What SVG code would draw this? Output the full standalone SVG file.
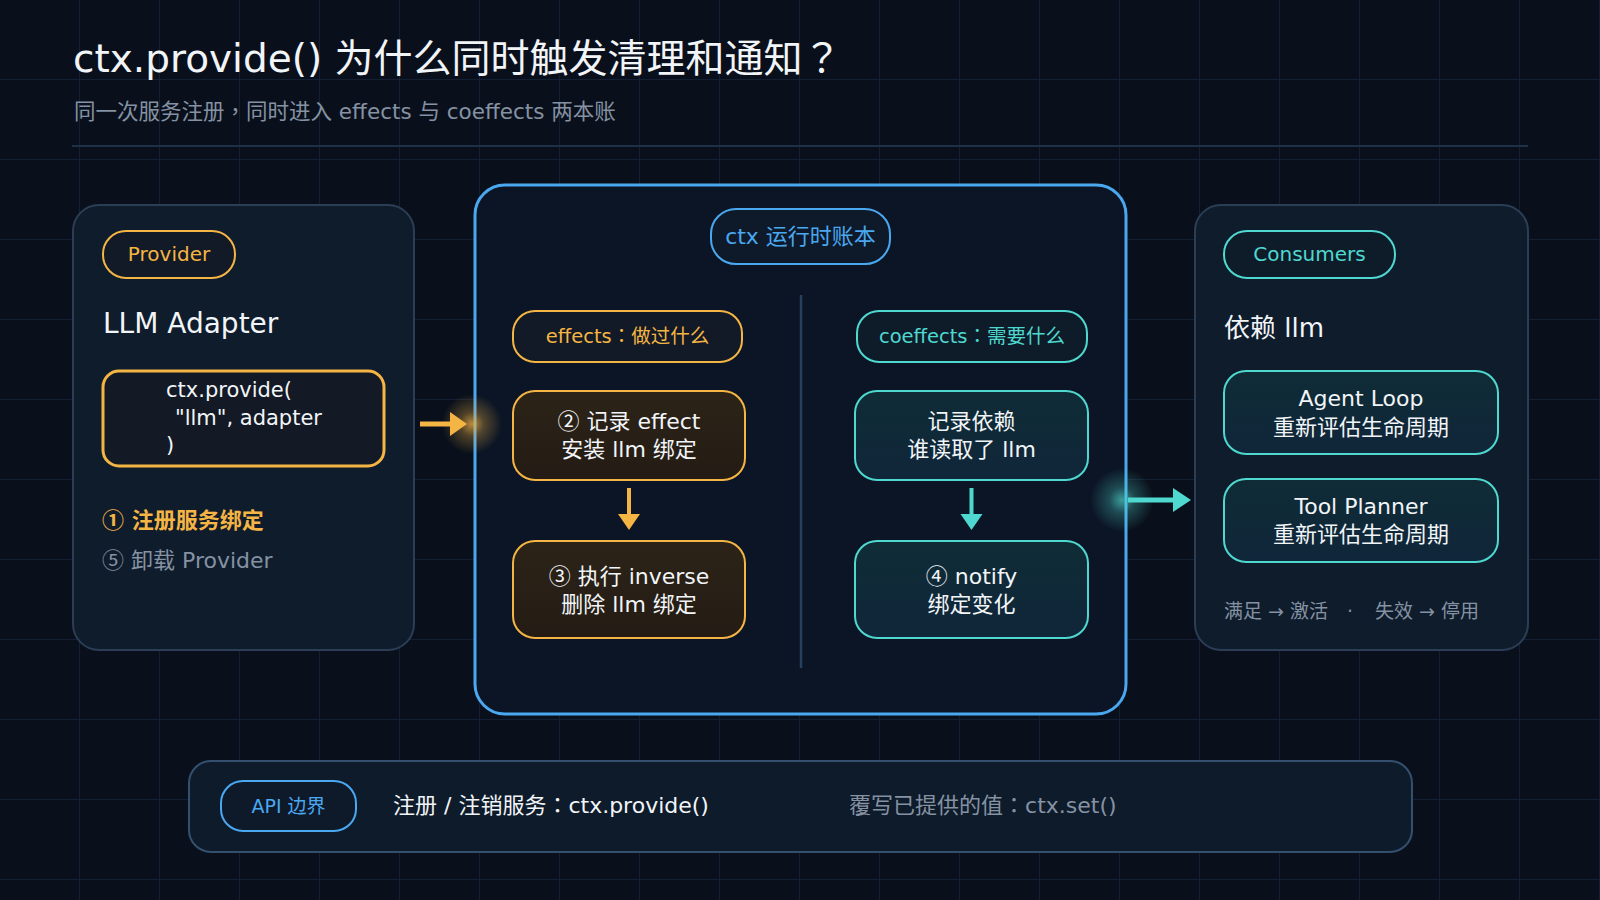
<svg xmlns="http://www.w3.org/2000/svg" width="1600" height="900" viewBox="0 0 1600 900">
  <defs>
    <pattern id="grid" width="80" height="80" patternUnits="userSpaceOnUse">
      <path d="M80 0 V80 M0 80 H80" fill="none" stroke="#16243a" stroke-width="1.5"/>
    </pattern>
    <radialGradient id="glowO">
      <stop offset="0" stop-color="#f5b544" stop-opacity="0.75"/>
      <stop offset="0.4" stop-color="#f5b544" stop-opacity="0.3"/>
      <stop offset="1" stop-color="#f5b544" stop-opacity="0"/>
    </radialGradient>
    <radialGradient id="glowC">
      <stop offset="0" stop-color="#4fd8cf" stop-opacity="0.7"/>
      <stop offset="0.4" stop-color="#4fd8cf" stop-opacity="0.28"/>
      <stop offset="1" stop-color="#4fd8cf" stop-opacity="0"/>
    </radialGradient>
    <linearGradient id="fillO" x1="0" y1="0" x2="0" y2="1">
      <stop offset="0" stop-color="#2c2318"/>
      <stop offset="1" stop-color="#241c14"/>
    </linearGradient>
    <linearGradient id="fillC" x1="0" y1="0" x2="0" y2="1">
      <stop offset="0" stop-color="#0f2c36"/>
      <stop offset="1" stop-color="#10263a"/>
    </linearGradient>
  </defs>
  <style>
    text { font-family: "DejaVu Sans", "Noto Sans CJK SC", sans-serif; }
    .cjk { font-family: "Noto Sans CJK TC", "Noto Sans CJK SC", sans-serif; }
    .panel { fill: #0f1c2c; stroke: #2b3e56; stroke-width: 2; }
    .pillO { fill: #111a26; stroke: #f5b544; stroke-width: 2; }
    .pillC { fill: #0e1c2a; stroke: #4fd8cf; stroke-width: 2; }
    .pillB { fill: #0e1a2a; stroke: #4aa8f0; stroke-width: 2; }
    .boxO { fill: url(#fillO); stroke: #f5b544; stroke-width: 2; }
    .boxC { fill: url(#fillC); stroke: #4fd8cf; stroke-width: 2; }
    .tO { fill: #f5b544; }
    .tC { fill: #4fd8cf; }
    .tB { fill: #4aa8f0; }
    .tW { fill: #f2f5f8; }
    .tG { fill: #8592a3; }
    .mid { text-anchor: middle; }
  </style>

  <rect width="1600" height="900" fill="#0a101b"/>
  <rect width="1600" height="900" fill="url(#grid)"/>

  <g id="header">
    <text x="73" y="72" font-size="39" class="tW">ctx.provide() 为什么同时触发清理和通知<tspan class="cjk">？</tspan></text>
    <text x="74" y="119" font-size="21.5" class="tG">同一次服务注册<tspan class="cjk">，</tspan>同时进入 effects 与 coeffects 两本账</text>
    <line x1="72" y1="146" x2="1528" y2="146" stroke="#1f3049" stroke-width="2"/>
  </g>

  <g id="provider">
    <rect class="panel" x="73" y="205" width="341" height="445" rx="26"/>
    <rect class="pillO" x="103" y="231" width="132" height="47" rx="23"/>
    <text x="169" y="261" font-size="20" class="tO mid">Provider</text>
    <text x="103" y="333" font-size="28" class="tW">LLM Adapter</text>
    <rect x="103" y="371" width="281" height="95" rx="16" fill="#131a25" stroke="#f5b544" stroke-width="3"/>
    <text x="166" y="397" font-size="21" class="tW">ctx.provide(</text>
    <text x="175" y="425" font-size="21" class="tW">"llm", adapter</text>
    <text x="166" y="452" font-size="21" class="tW">)</text>
    <text x="102" y="528" font-size="22" font-weight="bold" class="tO"><tspan class="cjk">①</tspan> 注册服务绑定</text>
    <text x="102" y="568" font-size="22" class="tG"><tspan class="cjk">⑤</tspan> 卸载 Provider</text>
  </g>

  <g id="ledger">
    <rect x="475" y="185" width="651" height="529" rx="30" fill="#0b1525" stroke="#4aa8f0" stroke-width="3"/>
    <rect class="pillB" x="711" y="209" width="179" height="55" rx="25"/>
    <text x="800.5" y="244" font-size="22" class="tB mid">ctx 运行时账本</text>
    <line x1="801" y1="295" x2="801" y2="668" stroke="#28405e" stroke-width="2.5"/>
  </g>

  <g id="effects-label">
    <rect class="pillO" x="513" y="311" width="229" height="51" rx="22"/>
    <text x="627.5" y="343" font-size="19.5" class="tO mid">effects<tspan class="cjk">：</tspan>做过什么</text>
  </g>
  <g id="coeffects-label">
    <rect class="pillC" x="857" y="311" width="230" height="51" rx="22"/>
    <text x="972" y="343" font-size="19.5" class="tC mid">coeffects<tspan class="cjk">：</tspan>需要什么</text>
  </g>

  <g id="record-effect">
    <rect class="boxO" x="513" y="391" width="232" height="89" rx="22"/>
    <text x="629" y="429" font-size="22" class="tW mid"><tspan class="cjk">②</tspan> 记录 effect</text>
    <text x="629" y="457" font-size="22" class="tW mid">安装 llm 绑定</text>
  </g>
  <g id="run-inverse">
    <rect class="boxO" x="513" y="541" width="232" height="97" rx="22"/>
    <text x="629" y="584" font-size="22" class="tW mid"><tspan class="cjk">③</tspan> 执行 inverse</text>
    <text x="629" y="612" font-size="22" class="tW mid">删除 llm 绑定</text>
  </g>
  <g id="record-deps">
    <rect class="boxC" x="855" y="391" width="233" height="89" rx="22"/>
    <text x="971.5" y="429" font-size="22" class="tW mid">记录依赖</text>
    <text x="971.5" y="457" font-size="22" class="tW mid">谁读取了 llm</text>
  </g>
  <g id="notify">
    <rect class="boxC" x="855" y="541" width="233" height="97" rx="22"/>
    <text x="971.5" y="584" font-size="22" class="tW mid"><tspan class="cjk">④</tspan> notify</text>
    <text x="971.5" y="612" font-size="22" class="tW mid">绑定变化</text>
  </g>

  <g id="consumers">
    <rect class="panel" x="1195" y="205" width="333" height="445" rx="26"/>
    <rect class="pillC" x="1224" y="231" width="171" height="47" rx="23"/>
    <text x="1309.5" y="261" font-size="20" class="tC mid">Consumers</text>
    <text x="1224" y="337" font-size="26" class="tW">依赖 llm</text>
  </g>
  <g id="agent-loop">
    <rect class="boxC" x="1224" y="371" width="274" height="83" rx="22"/>
    <text x="1361" y="406" font-size="22" class="tW mid">Agent Loop</text>
    <text x="1361" y="435" font-size="22" class="tW mid">重新评估生命周期</text>
  </g>
  <g id="tool-planner">
    <rect class="boxC" x="1224" y="479" width="274" height="83" rx="22"/>
    <text x="1361" y="514" font-size="22" class="tW mid">Tool Planner</text>
    <text x="1361" y="542" font-size="22" class="tW mid">重新评估生命周期</text>
  </g>
  <g id="consumer-note">
    <text x="1224" y="618" font-size="19" class="tG">满足 → 激活</text>
    <text x="1347" y="618" font-size="19" class="tG">·</text>
    <text x="1375" y="618" font-size="19" class="tG">失效 → 停用</text>
  </g>

  <g id="api-bar">
    <rect x="189" y="761" width="1223" height="91" rx="22" fill="#0e1b2a" stroke="#34506e" stroke-width="2"/>
    <rect class="pillB" x="221" y="781" width="135" height="50" rx="22"/>
    <text x="288.5" y="813" font-size="19" class="tB mid">API 边界</text>
    <text x="393" y="813" font-size="22" class="tW">注册 / 注销服务<tspan class="cjk">：</tspan>ctx.provide()</text>
    <text x="849" y="813" font-size="22" class="tG">覆写已提供的值<tspan class="cjk">：</tspan>ctx.set()</text>
  </g>

  <g id="connectors">
    <circle cx="472" cy="424" r="30" fill="url(#glowO)"/>
    <line x1="420" y1="424" x2="452" y2="424" stroke="#f5b544" stroke-width="5"/>
    <polygon points="450,412 467,424 450,436" fill="#f5b544"/>
    <circle cx="1122" cy="500" r="32" fill="url(#glowC)"/>
    <line x1="1128" y1="500" x2="1175" y2="500" stroke="#4fd8cf" stroke-width="5"/>
    <polygon points="1173,488 1191,500 1173,512" fill="#4fd8cf"/>
    <line x1="629" y1="488" x2="629" y2="516" stroke="#f5b544" stroke-width="4"/>
    <polygon points="618,514 629,530 640,514" fill="#f5b544"/>
    <line x1="971.5" y1="488" x2="971.5" y2="516" stroke="#4fd8cf" stroke-width="4"/>
    <polygon points="960.5,514 971.5,530 982.5,514" fill="#4fd8cf"/>
  </g>
</svg>
